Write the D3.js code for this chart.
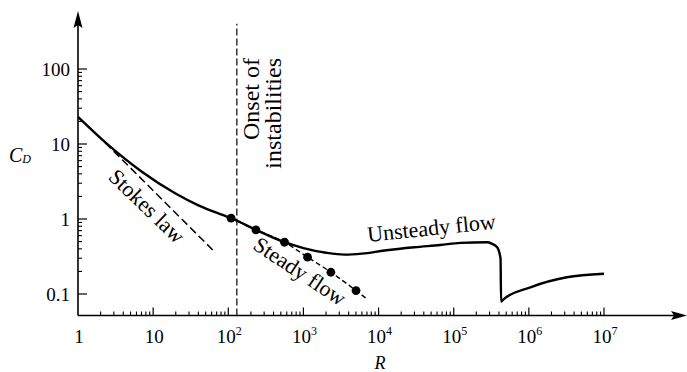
<!DOCTYPE html>
<html>
<head>
<meta charset="utf-8">
<script src="https://cdn.jsdelivr.net/npm/d3@7"></script>
<style>
  body { margin: 0; background: #fff; }
  svg { display: block; font-family: 'Liberation Serif', 'Times New Roman', serif; }
</style>
</head>
<body>
<div id="chart"></div>
<script>
// DRAG ON A SPHERE
// C_D against Reynolds number R, log-log

// Main curve (solid)
let curveR = [1, 2.5, 7, 19.6, 40, 82, 109, 233, 560, 1000, 2000, 3500, 6000, 12000, 30000, 66000, 123000, 278000, 320000, 378000, 420000, 427000, 460000, 1050000, 3200000, 10000000]
let curveC = [23, 9.8, 4.3, 2.2, 1.52, 1.14, 1.025, 0.718, 0.49, 0.41, 0.355, 0.335, 0.345, 0.38, 0.42, 0.45, 0.48, 0.49, 0.47, 0.42, 0.297, 0.079, 0.085, 0.123, 0.167, 0.186]

// Steady flow measurements (dots) and the dashed line through them
let steadyR = [109, 233, 560, 1135, 2320, 5010]
let steadyC = [1.025, 0.718, 0.49, 0.31, 0.195, 0.111]
let steadyLineR = [109, 233, 560, 1135, 2320, 5010, 7000]
let steadyLineC = [1.025, 0.718, 0.49, 0.31, 0.195, 0.111, 0.086]

// Stokes law, C_D = 24/R
let stokesR = [2.3, 62]
let stokesC = [10.4, 0.387]

// Onset of instabilities
let onsetR = [130, 130]
let onsetC = [0.0517, 400]

// Ticks
let xTickValues = [1, 10, 100, 1e3, 1e4, 1e5, 1e6, 1e7]
let xTickBase = ['1', '10', '10', '10', '10', '10', '10', '10']
let xTickExp = ['', '', '2', '3', '4', '5', '6', '7']
let yTickValues = [0.1, 1, 10, 100]
let yTickLabels = ['0.1', '1', '10', '100']

var chart = {
  width: 687,
  height: 372,
}

let x = d3.scaleLog().domain([1, 1e7]).range([78, 604])
let y = d3.scaleLog().domain([0.1, 100]).range([294, 69])

let baseY = y(0.0517)
let axisX = x(1)

let svg = d3.select('#chart')
  .append('svg')
  .attr('width', chart.width)
  .attr('height', chart.height)

// Axes lines with arrows
svg.append('line')
  .attr('x1', axisX).attr('y1', baseY)
  .attr('x2', 676).attr('y2', baseY)
  .attr('stroke', '#000').attr('stroke-width', 1.6)

svg.append('path')
  .attr('d', `M 687 ${baseY} L 671 ${baseY - 4.5} L 674 ${baseY} L 671 ${baseY + 4.5} Z`)
  .attr('fill', '#000')

svg.append('line')
  .attr('x1', axisX).attr('y1', baseY)
  .attr('x2', axisX).attr('y2', 22)
  .attr('stroke', '#000').attr('stroke-width', 1.6)

svg.append('path')
  .attr('d', `M ${axisX} 11 L ${axisX - 4.5} 28 L ${axisX} 25 L ${axisX + 4.5} 28 Z`)
  .attr('fill', '#000')

// x ticks
let xMinor = []
xTickValues.slice(0, -1).forEach((d) => {
  for (let k = 2; k <= 9; k++) xMinor.push(d * k)
})

svg.selectAll('line.xminor')
  .data(xMinor)
  .enter()
  .append('line')
    .attr('class', 'xminor')
    .attr('x1', (d) => x(d)).attr('x2', (d) => x(d))
    .attr('y1', baseY).attr('y2', baseY - 4)
    .attr('stroke', '#000').attr('stroke-width', 1.1)

svg.selectAll('line.xmajor')
  .data(xTickValues.slice(1))
  .enter()
  .append('line')
    .attr('class', 'xmajor')
    .attr('x1', (d) => x(d)).attr('x2', (d) => x(d))
    .attr('y1', baseY).attr('y2', baseY - 8)
    .attr('stroke', '#000').attr('stroke-width', 1.2)

let xLabels = svg.selectAll('text.xlabel')
  .data(xTickValues)
  .enter()
  .append('text')
    .attr('class', 'xlabel')
    .attr('x', (d) => x(d) + 1)
    .attr('y', 343)
    .attr('text-anchor', 'middle')
    .attr('font-size', 19)

xLabels.append('tspan').text((d, i) => xTickBase[i])
xLabels.append('tspan')
  .attr('dy', -8)
  .attr('font-size', 12)
  .text((d, i) => xTickExp[i])

// y ticks
let yMinor = []
yTickValues.slice(0, -1).forEach((d) => {
  for (let k = 2; k <= 9; k++) yMinor.push(d * k)
})

svg.selectAll('line.yminor')
  .data(yMinor)
  .enter()
  .append('line')
    .attr('class', 'yminor')
    .attr('x1', axisX).attr('x2', axisX + 4)
    .attr('y1', (d) => y(d)).attr('y2', (d) => y(d))
    .attr('stroke', '#000').attr('stroke-width', 1.1)

svg.selectAll('line.ymajor')
  .data(yTickValues)
  .enter()
  .append('line')
    .attr('class', 'ymajor')
    .attr('x1', axisX).attr('x2', axisX + 9)
    .attr('y1', (d) => y(d)).attr('y2', (d) => y(d))
    .attr('stroke', '#000').attr('stroke-width', 1.2)

svg.selectAll('text.ylabel')
  .data(yTickValues)
  .enter()
  .append('text')
    .attr('class', 'ylabel')
    .attr('x', 70)
    .attr('y', (d) => y(d))
    .attr('dy', '0.35em')
    .attr('text-anchor', 'end')
    .attr('font-size', 19)
    .text((d, i) => yTickLabels[i])

// Axis titles
let cd = svg.append('text')
  .attr('x', 9)
  .attr('y', 162)
  .attr('font-style', 'italic')
cd.append('tspan').attr('font-size', 20).text('C')
cd.append('tspan').attr('font-size', 12).attr('dy', 1).text('D')

svg.append('text')
  .attr('x', 380)
  .attr('y', 369)
  .attr('text-anchor', 'middle')
  .attr('font-style', 'italic')
  .attr('font-size', 18)
  .text('R')

// Lines
let line = d3.line()
  .x((d) => x(d[0]))
  .y((d) => y(d[1]))

let lineSmooth = d3.line()
  .x((d) => x(d[0]))
  .y((d) => y(d[1]))
  .curve(d3.curveMonotoneX)

svg.append('path')
  .attr('d', line(d3.zip(onsetR, onsetC)))
  .attr('fill', 'none')
  .attr('stroke', '#000')
  .attr('stroke-width', 1.2)
  .attr('stroke-dasharray', '7 3')

svg.append('path')
  .attr('d', line(d3.zip(stokesR, stokesC)))
  .attr('fill', 'none')
  .attr('stroke', '#000')
  .attr('stroke-width', 1.5)
  .attr('stroke-dasharray', '8 4')

svg.append('path')
  .attr('d', lineSmooth(d3.zip(steadyLineR, steadyLineC)))
  .attr('fill', 'none')
  .attr('stroke', '#000')
  .attr('stroke-width', 1.4)
  .attr('stroke-dasharray', '5 3')

svg.append('path')
  .attr('d', lineSmooth(d3.zip(curveR, curveC)))
  .attr('fill', 'none')
  .attr('stroke', '#000')
  .attr('stroke-width', 2.4)
  .attr('stroke-linejoin', 'round')

svg.selectAll('circle.steady')
  .data(d3.zip(steadyR, steadyC))
  .enter()
  .append('circle')
    .attr('class', 'steady')
    .attr('cx', (d) => x(d[0]))
    .attr('cy', (d) => y(d[1]))
    .attr('r', 4.4)
    .attr('fill', '#000')

// Annotations
svg.append('text')
  .attr('transform', 'translate(147,206) rotate(44)')
  .attr('text-anchor', 'middle')
  .attr('dy', '0.35em')
  .attr('font-size', 22)
  .text('Stokes law')

svg.append('text')
  .attr('transform', 'translate(300,271) rotate(33.5)')
  .attr('text-anchor', 'middle')
  .attr('dy', '0.35em')
  .attr('font-size', 22)
  .text('Steady flow')

svg.append('text')
  .attr('transform', 'translate(368,242) rotate(-6)')
  .attr('font-size', 22)
  .text('Unsteady flow')

svg.append('text')
  .attr('transform', 'translate(259,58) rotate(-90)')
  .attr('text-anchor', 'end')
  .attr('font-size', 24)
  .text('Onset of')

svg.append('text')
  .attr('transform', 'translate(281,58) rotate(-90)')
  .attr('text-anchor', 'end')
  .attr('font-size', 24)
  .text('instabilities')
</script>
</body>
</html>
